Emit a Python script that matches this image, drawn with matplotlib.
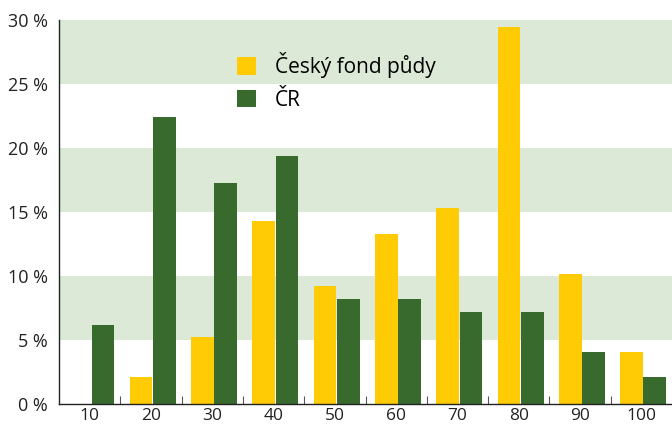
import matplotlib
matplotlib.use("Agg")
import matplotlib.pyplot as plt
import numpy as np

plt.rcParams['font.family'] = ['Open Sans', 'DejaVu Sans']

categories = ["10", "20", "30", "40", "50", "60", "70", "80", "90", "100"]
fond = [0.0, 2.1, 5.2, 14.3, 9.2, 13.3, 15.3, 29.5, 10.2, 4.1]
cr = [6.2, 22.4, 17.3, 19.4, 8.2, 8.2, 7.2, 7.2, 4.1, 2.1]
yticks = [0, 5, 10, 15, 20, 25, 30]
ylabels = ["0 %", "5 %", "10 %", "15 %", "20 %", "25 %", "30 %"]

yellow = "#ffcb05"
green = "#386a2e"
band = "#dde9d7"

fig = plt.figure(figsize=(6.72, 4.28), dpi=100)
ax = fig.add_axes([0.0878, 0.056, 0.9122, 0.897])

for lo in (5, 15, 25):
    ax.axhspan(lo, lo + 5, color=band, zorder=0, lw=0)

x = np.arange(len(categories))
w = 0.37
ax.bar(x - 0.16, fond, w, color=yellow, zorder=2, label="Český fond půdy")
ax.bar(x + 0.22, cr, w, color=green, zorder=2, label="ČR")

ax.set_xlim(-0.5, len(categories) - 0.5)
ax.set_ylim(0, 30)
ax.set_yticks(yticks)
ax.set_yticklabels(ylabels)
ax.set_xticks(x)
ax.set_xticklabels(categories)
ax.set_xticks(np.arange(0.5, len(categories) - 0.5, 1), minor=True)
ax.tick_params(axis='x', which='major', length=0, pad=3, labelsize=12.5, colors='#222222')
ax.tick_params(axis='x', which='minor', length=6, direction='in', color='#555555', width=0.8)
ax.tick_params(axis='y', length=0, pad=8, labelsize=13, colors='#222222')

for s in ('top', 'right'):
    ax.spines[s].set_visible(False)
for s in ('left', 'bottom'):
    ax.spines[s].set_color('#222222')
    ax.spines[s].set_linewidth(1.0)

leg = ax.legend(loc='upper left', bbox_to_anchor=(0.26, 0.965), frameon=False,
                fontsize=15, handlelength=0.9, handleheight=0.9, handletextpad=0.9,
                labelspacing=0.55)

fig.savefig("out.png", dpi=100)
